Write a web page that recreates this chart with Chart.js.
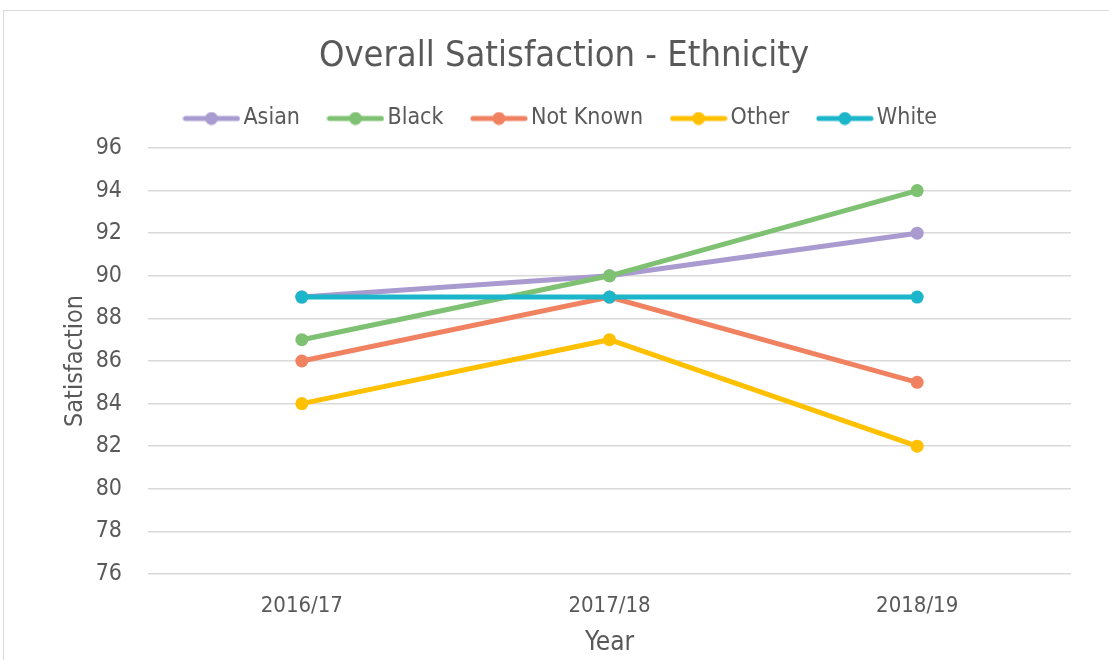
<!DOCTYPE html>
<html>
<head>
<meta charset="utf-8">
<script src="https://cdn.jsdelivr.net/npm/chart.js@4/dist/chart.umd.min.js"></script>
<style>
html,body{margin:0;padding:0;background:#fff;overflow:hidden;width:1109px;height:660px;}
#frame{position:absolute;left:3px;top:10px;width:1130px;height:660px;border:1px solid #d9d9d9;box-sizing:border-box;}
#wrap{position:absolute;left:3px;top:10px;width:1125px;height:650px;}
</style>
</head>
<body>
<div id="frame"></div>
<div id="wrap"><canvas id="c" width="1125" height="650"></canvas></div>
<script>
const categories = ["2016/17", "2017/18", "2018/19"];
const seriesNames = ["Asian", "Black", "Not Known", "Other", "White"];
const asian = [89, 90, 92];
const black = [87, 90, 94];
const notKnown = [86, 89, 85];
const other = [84, 87, 82];
const white = [89, 89, 89];
const colors = ["#a99bd0", "#7fc172", "#f08262", "#ffc000", "#1bb6c9"];
const yMin = 76, yMax = 96, yStep = 2;

const FONT = "'DejaVu Sans Condensed', 'DejaVu Sans', sans-serif";
const TXT = "#595959";

function legendIcon(color){
  const cv = document.createElement('canvas');
  cv.width = 58; cv.height = 14;
  const g = cv.getContext('2d');
  g.strokeStyle = color; g.lineWidth = 5; g.lineCap = 'round';
  g.beginPath(); g.moveTo(3,7); g.lineTo(55,7); g.stroke();
  g.fillStyle = color; g.beginPath(); g.arc(29,7,6.5,0,Math.PI*2); g.fill();
  return cv;
}

const legendHeightPlugin = {
  id: 'legendHeight',
  beforeLayout(chart){
    const lg = chart.legend;
    if (lg && !lg._patched){
      const f = lg.fit.bind(lg);
      lg.fit = function(){ f(); this.height = 76; };
      lg._patched = true;
    }
  }
};

const values = [asian, black, notKnown, other, white];
const datasets = values.map((v,i)=>({
  label: seriesNames[i],
  data: v,
  borderColor: colors[i],
  backgroundColor: colors[i],
  borderWidth: 5,
  pointRadius: 6.5,
  pointHoverRadius: 6.5,
  pointBorderWidth: 0,
  order: values.length - 1 - i,
  tension: 0
}));

new Chart(document.getElementById('c'), {
  type: 'line',
  data: { labels: categories, datasets },
  plugins: [legendHeightPlugin],
  options: {
    responsive: false,
    animation: false,
    events: [],
    layout: { padding: { left: 54, right: 57, top: 0, bottom: 0 } },
    plugins: {
      title: {
        display: true,
        text: 'Overall Satisfaction - Ethnicity',
        color: TXT,
        font: { family: FONT, size: 36, weight: 'normal', lineHeight: 1 },
        padding: { top: 29, bottom: -3 }
      },
      legend: {
        display: true,
        position: 'top',
        labels: {
          color: TXT,
          font: { family: FONT, size: 23 },
          usePointStyle: true,
          pointStyleWidth: 41,
          boxHeight: 14,
          padding: 35,
          sort: (a,b)=>a.datasetIndex-b.datasetIndex,
          generateLabels: (chart)=>{
            const items = Chart.defaults.plugins.legend.labels.generateLabels(chart);
            items.forEach(it=>{ it.pointStyle = legendIcon(colors[it.datasetIndex]); it.lineWidth = 0; });
            return items;
          }
        }
      },
      tooltip: { enabled: false }
    },
    scales: {
      x: {
        offset: true,
        grid: { display: false },
        border: { display: false },
        ticks: { color: TXT, font: { family: FONT, size: 22 }, padding: 11 },
        title: { display: true, text: 'Year', color: TXT, font: { family: FONT, size: 26 }, padding: { top: 0, bottom: 1 } },
        afterFit: (s)=>{ s.height = 86; }
      },
      y: {
        min: yMin, max: yMax,
        ticks: { stepSize: yStep, color: TXT, font: { family: FONT, size: 23 }, padding: 26 },
        grid: { color: '#d9d9d9', lineWidth: 1.5, drawTicks: false },
        border: { display: false },
        title: { display: true, text: 'Satisfaction', color: TXT, font: { family: FONT, size: 25 }, padding: { top: 3, bottom: 0 } },
        afterFit: (s)=>{ s.width = 91; }
      }
    }
  }
});
</script>
</body>
</html>
